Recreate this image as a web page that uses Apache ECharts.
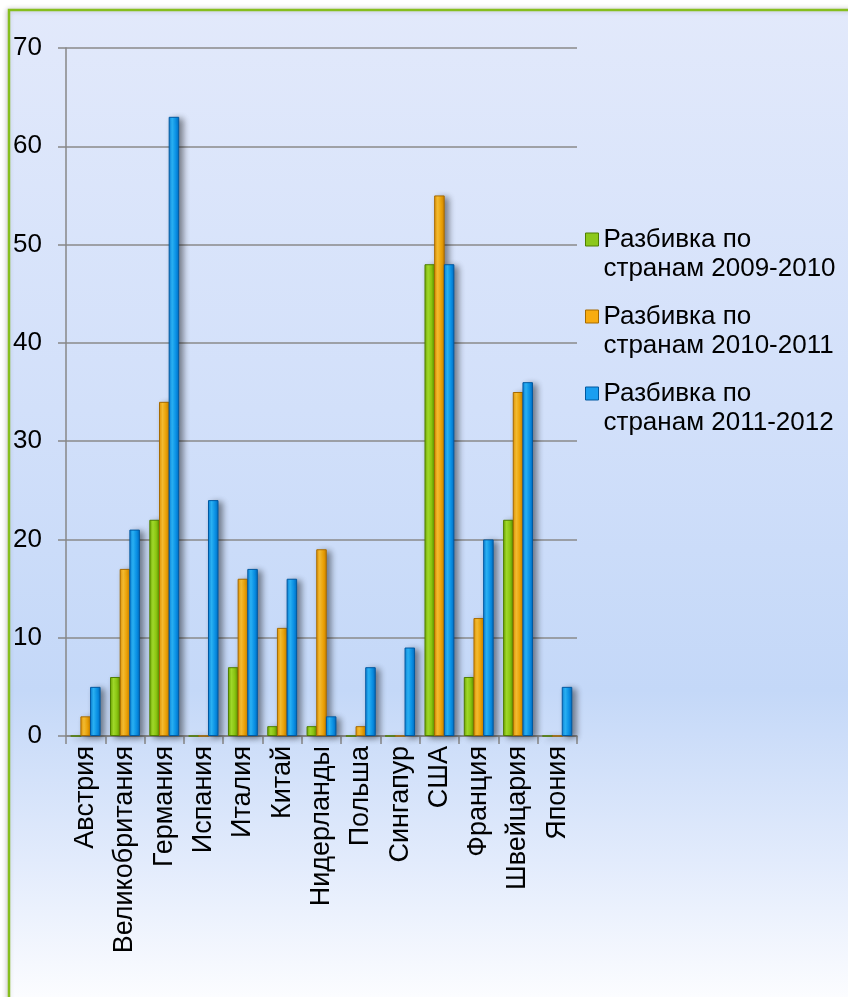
<!DOCTYPE html>
<html>
<head>
<meta charset="utf-8">
<script src="https://cdn.jsdelivr.net/npm/echarts@6/dist/echarts.min.js"></script>
<style>
html,body{margin:0;padding:0;background:#ffffff;}
#chart{width:848px;height:997px;}
</style>
</head>
<body>
<div id="chart"></div>
<script>
var categories = ['Австрия','Великобритания','Германия','Испания','Италия','Китай','Нидерланды','Польша','Сингапур','США','Франция','Швейцария','Япония'];
var seriesNames = ['Разбивка по странам 2009-2010','Разбивка по странам 2010-2011','Разбивка по странам 2011-2012'];
var values2009 = [0, 6, 22, 0, 7, 1, 1, 0, 0, 48, 6, 22, 0];
var values2010 = [2, 17, 34, 0, 16, 11, 19, 1, 0, 55, 12, 35, 0];
var values2011 = [5, 21, 63, 24, 17, 16, 2, 7, 9, 48, 20, 36, 5];
var yTicks = {min: 0, max: 70, interval: 10};

var FONT = '"Liberation Sans", Arial, sans-serif';

function hGrad(stops) {
  return new echarts.graphic.LinearGradient(0, 0, 1, 0, stops.map(function (c, i) {
    return {offset: i / (stops.length - 1), color: c};
  }));
}

var styles = [
  {fill: hGrad(['#6ea400', '#a8e42c', '#92d012', '#5e9400']), border: '#4f7f00', icon: '#8cc81a'},
  {fill: hGrad(['#e49200', '#ffc534', '#f8ab08', '#d48600']), border: '#a66a00', icon: '#f8ac10'},
  {fill: hGrad(['#0a80d8', '#2cbaff', '#0c9af2', '#006ec6']), border: '#0058a0', icon: '#1a9ef0'}
];
var dataSets = [values2009, values2010, values2011];

var series = seriesNames.map(function (n, i) {
  return {
    name: n,
    type: 'bar',
    data: dataSets[i],
    barCategoryGap: '24%',
    barGap: '-8%',
    itemStyle: {
      color: styles[i].fill,
      borderColor: styles[i].border,
      borderWidth: 1,
      shadowColor: 'rgba(0,0,0,0.45)',
      shadowBlur: 6,
      shadowOffsetX: 4,
      shadowOffsetY: 2
    }
  };
});

var chart = echarts.init(document.getElementById('chart'), null, {renderer: 'canvas'});
chart.setOption({
  animation: false,
  backgroundColor: '#ffffff',
  textStyle: {fontFamily: FONT},
  graphic: [{
    type: 'rect',
    z: -10,
    silent: true,
    shape: {x: 9, y: 10, width: 900, height: 1000},
    style: {
      fill: new echarts.graphic.LinearGradient(0, 0, 0, 1, [
        {offset: 0, color: '#e2e9fb'},
        {offset: 0.4, color: '#d2e0fa'},
        {offset: 0.68, color: '#c4d8f8'},
        {offset: 0.85, color: '#e2ebfc'},
        {offset: 1, color: '#fefeff'}
      ]),
      stroke: '#86be1e',
      lineWidth: 2.5,
      shadowColor: 'rgba(0,0,0,0.18)',
      shadowBlur: 5,
      shadowOffsetX: -1
    }
  }],
  grid: {left: 66, right: 271, top: 48, bottom: 261, containLabel: false},
  legend: {
    orient: 'vertical',
    left: 585,
    top: 196,
    padding: 0,
    itemGap: -10,
    itemWidth: 13,
    itemHeight: 13,
    icon: 'rect',
    data: seriesNames.map(function (n, i) {
      return {name: n, itemStyle: {color: styles[i].icon, borderColor: styles[i].border, borderWidth: 1}};
    }),
    formatter: function (name) {
      return '\n' + name.replace(' странам', '\nстранам');
    },
    textStyle: {fontSize: 26, lineHeight: 29, color: '#000', fontFamily: FONT}
  },
  xAxis: {
    type: 'category',
    data: categories,
    axisLine: {lineStyle: {color: '#878787', width: 1.5}},
    axisTick: {show: true, length: 8, alignWithLabel: false, lineStyle: {color: '#878787', width: 1.5}},
    axisLabel: {rotate: 90, fontSize: 27, color: '#000', margin: 10, fontFamily: FONT, interval: 0}
  },
  yAxis: {
    type: 'value',
    min: yTicks.min,
    max: yTicks.max,
    interval: yTicks.interval,
    axisLine: {show: true, lineStyle: {color: '#878787', width: 1.5}},
    axisTick: {show: true, length: 8, lineStyle: {color: '#878787', width: 1.5}},
    axisLabel: {fontSize: 26, color: '#000', margin: 24, fontFamily: FONT},
    splitLine: {show: true, lineStyle: {color: '#8a8a8a', width: 1.5}}
  },
  series: series
});
</script>
</body>
</html>
